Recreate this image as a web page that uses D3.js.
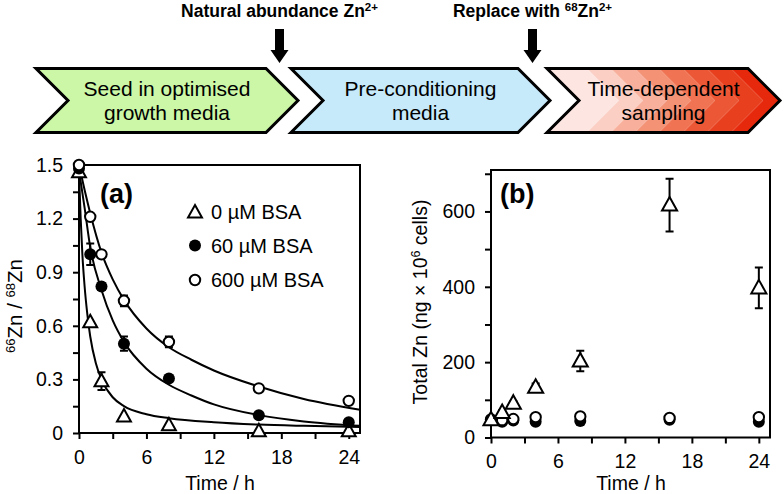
<!DOCTYPE html>
<html><head><meta charset="utf-8">
<script src="https://cdn.jsdelivr.net/npm/d3@7"></script>
<style>
body{margin:0;background:#fff}
svg{display:block}
text{font-family:Arial,"Liberation Sans",sans-serif;fill:#000}
</style>
</head><body>
<svg id="chart" width="784" height="494"></svg>
<script>
// ---------------- data ----------------
const stepLabels = [["Seed in optimised","growth media"],["Pre-conditioning","media"],["Time-dependent","sampling"]];
const stepFills = ["#cbf7a6","#c6eafa",null];
const bandColors = ["#fde6e2","#fbcfc4","#f8b09d","#f49276","#f07453","#ec5735","#e8401f","#e6290c"];
const eventLabels = ["Natural abundance Zn","Replace with "];

const times = [0,1,2,4,8,16,24];
const ratio0 = [1.46,0.62,0.29,0.093,0.043,0.01,0.01];
const ratio0Err = [0,0,0.05,0,0,0,0];
const ratio60 = [1.48,1.0,0.82,0.5,0.305,0.099,0.06];
const ratio60Err = [0,0.06,0.02,0.04,0,0,0];
const ratio600 = [1.5,1.21,1.0,0.74,0.51,0.25,0.18];
const ratio600Err = [0,0,0,0.03,0.03,0,0];

const fitT0 = [0,0.15,0.3,0.5,0.75,1,1.5,2,3,4,6,8,12,16,20,25];
const fitV0 = [1.46,1.2,1.0,0.82,0.66,0.54,0.39,0.3,0.2,0.15,0.105,0.083,0.06,0.047,0.04,0.034];
const fitT60 = [0,0.5,1,2,3,4,6,8,10,12,16,20,25];
const fitV60 = [1.47,1.26,1.04,0.8,0.63,0.51,0.36,0.27,0.21,0.16,0.10,0.065,0.04];
const fitT600 = [0,0.5,1,2,3,4,6,8,10,12,16,20,25];
const fitV600 = [1.5,1.36,1.23,1.01,0.86,0.745,0.585,0.48,0.41,0.35,0.26,0.19,0.13];

const total0 = [47,66,91,133,203,617,397];
const total0Err = [4,6,5,10,27,70,54];
const total60 = [46,42,45,42,44,47,42];
const total600 = [48,46,49,54,56,52,54];

const legendLabels = ["0 µM BSA","60 µM BSA","600 µM BSA"];
const ratioTicks = [0,0.3,0.6,0.9,1.2,1.5];
const ratioMinor = [0.15,0.45,0.75,1.05,1.35];
const timeTicks = [0,6,12,18,24];
const timeMinor = [3,9,15,21];
const totalTicks = [0,200,400,600];
const totalMinor = [100,300,500,700];

// ---------------- drawing ----------------
const svg = d3.select("#chart");

// Flow chart
const chTop = 68.5, chBot = 132.5, chMid = (chTop+chBot)/2, dep = chBot - chMid;
const stepX = [[36,266],[291,518],[547,748]];
function chevron(x0,x1){
  return [[x0,chTop],[x1,chTop],[x1+dep,chMid],[x1,chBot],[x0,chBot],[x0+dep,chMid]];
}
const line = d3.line();
const defs = svg.append("defs");
stepX.forEach((sx,i)=>{
  const pts = chevron(sx[0],sx[1]);
  if(stepFills[i]){
    svg.append("path").attr("d",line(pts)+"Z").attr("fill",stepFills[i]);
  } else {
    defs.append("clipPath").attr("id","clip3").append("path").attr("d",line(pts)+"Z");
    const g = svg.append("g").attr("clip-path","url(#clip3)");
    const bw = 24, b0 = sx[0] + 16;
    bandColors.forEach((c,j)=>{
      const a = j===0 ? b0 - 80 : b0 + j*bw;
      const b = (j===bandColors.length-1) ? 900 : b0 + (j+1)*bw;
      g.append("path").attr("d",line([[a,chTop],[b,chTop],[b+dep,chMid],[b,chBot],[a,chBot],[a+dep,chMid]])+"Z").attr("fill",c);
    });
  }
  svg.append("path").attr("d",line(pts)+"Z").attr("fill","none").attr("stroke","#000")
    .attr("stroke-width",3).attr("stroke-linejoin","miter");
  const cx = (sx[0]+dep+sx[1])/2;
  const t = svg.append("text").attr("text-anchor","middle").attr("font-size",21);
  t.append("tspan").attr("x",cx).attr("y",96).text(stepLabels[i][0]);
  t.append("tspan").attr("x",cx).attr("y",119.5).text(stepLabels[i][1]);
});

// event arrows & labels
const eventX = [279.5,532.5];
eventX.forEach((ex,i)=>{
  svg.append("path").attr("d",line([[ex-4.5,29],[ex+4.5,29],[ex+4.5,50],[ex+9,50],[ex,63],[ex-9,50],[ex-4.5,50]])+"Z").attr("fill","#000");
  const t = svg.append("text").attr("x",ex).attr("y",17).attr("text-anchor","middle")
    .attr("font-size",17.5).attr("font-weight","bold")
    .style("font-family","'Liberation Sans Narrow','Arial Narrow',Arial,sans-serif");
  t.append("tspan").text(eventLabels[i]);
  if(i===1){
    t.append("tspan").attr("font-size",11.5).attr("dy",-6).text("68");
    t.append("tspan").attr("dy",6).text("Zn");
  }
  t.append("tspan").attr("font-size",11.5).attr("dy",-6).text("2+");
});

// helpers
function triPath(s){return `M0,${-s*0.62}L${s*0.58},${s*0.42}L${-s*0.58},${s*0.42}Z`;}
function drawAxes(g,x,y,ytk,ymin,yfmt){
  const xa = d3.axisBottom(x).tickValues(timeTicks).tickSize(6).tickPadding(11).tickFormat(d3.format("d"));
  const xm = d3.axisBottom(x).tickValues(timeMinor).tickSize(6).tickFormat("");
  const ya = d3.axisLeft(y).tickValues(ytk).tickSize(6).tickPadding(10).tickFormat(yfmt);
  const ym = d3.axisLeft(y).tickValues(ymin).tickSize(6).tickFormat("");
  const [x0,x1] = x.range(), [y0,y1] = y.range();
  [ [xa,`translate(0,${y0})`], [xm,`translate(0,${y0})`], [ya,`translate(${x0},0)`], [ym,`translate(${x0},0)`] ].forEach(([a,tr])=>{
    const ag = g.append("g").attr("transform",tr).call(a);
    ag.select(".domain").remove();
    ag.selectAll("line").attr("stroke","#000").attr("stroke-width",2);
    ag.selectAll("text").attr("font-size",19.5).style("font-family","Arial,'Liberation Sans',sans-serif");
  });
  g.append("rect").attr("x",x0).attr("y",y1).attr("width",x1-x0).attr("height",y0-y1)
    .attr("fill","none").attr("stroke","#000").attr("stroke-width",2);
}
function errBars(g,x,y,vals,errs){
  times.forEach((t,i)=>{
    if(!errs[i]) return;
    const px = x(t), ya = y(vals[i]+errs[i]), yb = y(vals[i]-errs[i]);
    g.append("path").attr("d",`M${px},${ya}V${yb}M${px-4},${ya}H${px+4}M${px-4},${yb}H${px+4}`)
      .attr("stroke","#000").attr("stroke-width",2).attr("fill","none");
  });
}

// Panel (a)
const xa = d3.scaleLinear().domain([0,25]).range([79,360]);
const ya = d3.scaleLinear().domain([0,1.5]).range([433,165]);
const ga = svg.append("g");
drawAxes(ga,xa,ya,ratioTicks,ratioMinor,d=>d===0?"0":d.toFixed(1));
const fitLine = d3.line().x(d=>xa(d[0])).y(d=>ya(d[1])).curve(d3.curveMonotoneX);
[[fitT0,fitV0],[fitT60,fitV60],[fitT600,fitV600]].forEach(([ts,vs])=>{
  ga.append("path").attr("d",fitLine(ts.map((t,i)=>[t,vs[i]]))).attr("fill","none")
    .attr("stroke","#000").attr("stroke-width",2);
});
errBars(ga,xa,ya,ratio0,ratio0Err);
errBars(ga,xa,ya,ratio60,ratio60Err);
errBars(ga,xa,ya,ratio600,ratio600Err);
times.forEach((t,i)=>{
  ga.append("path").attr("d",triPath(12)).attr("transform",`translate(${xa(t)},${ya(ratio0[i])})`)
    .attr("fill","#fff").attr("stroke","#000").attr("stroke-width",2);
});
times.forEach((t,i)=>{
  ga.append("circle").attr("cx",xa(t)).attr("cy",ya(ratio60[i])).attr("r",6).attr("fill","#000");
});
times.forEach((t,i)=>{
  ga.append("circle").attr("cx",xa(t)).attr("cy",ya(ratio600[i])).attr("r",5.2)
    .attr("fill","#fff").attr("stroke","#000").attr("stroke-width",2);
});
ga.append("text").attr("x",100).attr("y",203).attr("font-size",27).attr("font-weight","bold").text("(a)");
// legend
const legY = [211.5,245.5,280];
ga.append("path").attr("d",triPath(12)).attr("transform",`translate(195,${legY[0]+1})`)
  .attr("fill","#fff").attr("stroke","#000").attr("stroke-width",2);
ga.append("circle").attr("cx",195).attr("cy",legY[1]).attr("r",6).attr("fill","#000");
ga.append("circle").attr("cx",195).attr("cy",legY[2]).attr("r",5.2).attr("fill","#fff").attr("stroke","#000").attr("stroke-width",2);
legendLabels.forEach((l,i)=>{
  ga.append("text").attr("x",211).attr("y",legY[i]+7).attr("font-size",20).text(l);
});
// titles
ga.append("text").attr("x",220).attr("y",490).attr("text-anchor","middle").attr("font-size",19.5).text("Time / h");
const yt = ga.append("text").attr("transform","translate(22,306) rotate(-90)").attr("text-anchor","middle").attr("font-size",20.5);
yt.append("tspan").attr("font-size",13).attr("dy",-7).text("66");
yt.append("tspan").attr("dy",7).text("Zn / ");
yt.append("tspan").attr("font-size",13).attr("dy",-7).text("68");
yt.append("tspan").attr("dy",7).text("Zn");

// Panel (b)
const xb = d3.scaleLinear().domain([0,25]).range([491,770]);
const yb = d3.scaleLinear().domain([0,710]).range([437.5,170]);
const gb = svg.append("g");
drawAxes(gb,xb,yb,totalTicks,totalMinor,d3.format("d"));
errBars(gb,xb,yb,total0,total0Err);
times.forEach((t,i)=>{
  gb.append("circle").attr("cx",xb(t)).attr("cy",yb(total60[i])).attr("r",6).attr("fill","#000");
});
times.forEach((t,i)=>{
  gb.append("circle").attr("cx",xb(t)).attr("cy",yb(total600[i])).attr("r",5.2)
    .attr("fill","#fff").attr("stroke","#000").attr("stroke-width",2);
});
times.forEach((t,i)=>{
  gb.append("path").attr("d",triPath(13)).attr("transform",`translate(${xb(t)},${yb(total0[i])})`)
    .attr("fill","#fff").attr("stroke","#000").attr("stroke-width",2);
});
gb.append("text").attr("x",500).attr("y",203).attr("font-size",27).attr("font-weight","bold").text("(b)");
gb.append("text").attr("x",631).attr("y",490).attr("text-anchor","middle").attr("font-size",19.5).text("Time / h");
const yt2 = gb.append("text").attr("transform","translate(427,302) rotate(-90)").attr("text-anchor","middle").attr("font-size",19.5);
yt2.append("tspan").text("Total Zn (ng × 10");
yt2.append("tspan").attr("font-size",12.5).attr("dy",-7).text("6");
yt2.append("tspan").attr("dy",7).text(" cells)");
</script>
</body></html>
